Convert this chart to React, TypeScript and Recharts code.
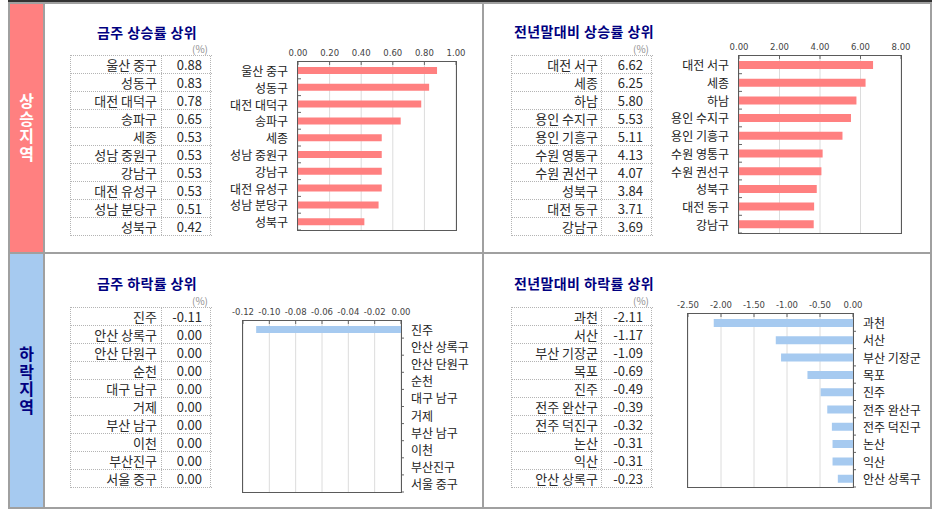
import React from 'react';
import { BarChart, Bar, XAxis, YAxis, CartesianGrid } from 'recharts';

// 금주 상승률 상위
const weekUpNames = ['울산 중구', '성동구', '대전 대덕구', '송파구', '세종', '성남 중원구', '강남구', '대전 유성구', '성남 분당구', '성북구'];
const weekUpValues = [0.88, 0.83, 0.78, 0.65, 0.53, 0.53, 0.53, 0.53, 0.51, 0.42];
const weekUpTicks = [0, 0.2, 0.4, 0.6, 0.8, 1.0];

// 전년말대비 상승률 상위
const yearUpNames = ['대전 서구', '세종', '하남', '용인 수지구', '용인 기흥구', '수원 영통구', '수원 권선구', '성북구', '대전 동구', '강남구'];
const yearUpValues = [6.62, 6.25, 5.8, 5.53, 5.11, 4.13, 4.07, 3.84, 3.71, 3.69];
const yearUpTicks = [0, 2, 4, 6, 8];

// 금주 하락률 상위
const weekDownNames = ['진주', '안산 상록구', '안산 단원구', '순천', '대구 남구', '거제', '부산 남구', '이천', '부산진구', '서울 중구'];
const weekDownValues = [-0.11, 0, 0, 0, 0, 0, 0, 0, 0, 0];
const weekDownTicks = [-0.12, -0.1, -0.08, -0.06, -0.04, -0.02, 0];

// 전년말대비 하락률 상위
const yearDownNames = ['과천', '서산', '부산 기장군', '목포', '진주', '전주 완산구', '전주 덕진구', '논산', '익산', '안산 상록구'];
const yearDownValues = [-2.11, -1.17, -1.09, -0.69, -0.49, -0.39, -0.32, -0.31, -0.31, -0.23];
const yearDownTicks = [-2.5, -2, -1.5, -1, -0.5, 0];

const FONT = '"Noto Sans CJK KR", "Noto Sans", sans-serif';
const NAVY = '#000080';
const RED = '#ff8080';
const BLUE = '#a6caf0';
const FRAME = '#a0a0a0';
const DOT = '1px dotted #b4b4b4';

type Margin = { top: number; right: number; bottom: number; left: number };

function DataTable({ names, values, left, top, labelW, valueW, rowH, labelPad }: {
  names: string[]; values: number[]; left: number; top: number; labelW: number; valueW: number; rowH: number; labelPad: number;
}) {
  return (
    <div style={{ position: 'absolute', left, top, width: labelW + valueW, borderTop: DOT, borderLeft: DOT, fontFamily: FONT, fontSize: 13, color: '#2a2a2a' }}>
      {names.map((n, i) => (
        <div key={n + i} style={{ display: 'flex', height: rowH, boxSizing: 'border-box', borderBottom: DOT }}>
          <div style={{ width: labelW, boxSizing: 'border-box', borderRight: DOT, textAlign: 'right', paddingRight: labelPad, lineHeight: rowH - 1 + 'px', whiteSpace: 'nowrap' }}>{n}</div>
          <div style={{ width: valueW - 1, boxSizing: 'border-box', borderRight: DOT, textAlign: 'right', paddingRight: 8, lineHeight: rowH - 1 + 'px' }}>{values[i].toFixed(2)}</div>
        </div>
      ))}
    </div>
  );
}

function RankChart({ names, values, ticks, color, side, left, top, width, height, margin, axisW, barSize }: {
  names: string[]; values: number[]; ticks: number[]; color: string; side: 'left' | 'right';
  left: number; top: number; width: number; height: number; margin: Margin; axisW: number; barSize: number;
}) {
  const data = names.map((name, i) => ({ name, value: values[i] }));
  const xH = 24;
  const plotTop = margin.top + xH;
  const plotH = height - plotTop - margin.bottom;
  const plotW = width - margin.left - margin.right - axisW;
  const band = plotH / names.length;
  const plotLeft = side === 'left' ? margin.left + axisW : margin.left;
  const edgeX = side === 'left' ? plotLeft : plotLeft + plotW;

  const xTick = (p: any) => (
    <g>
      <text x={p.x} y={p.y} textAnchor="middle" fontSize={8.5} fill="#444" fontFamily="DejaVu Sans">{Number(p.payload.value).toFixed(2)}</text>
      <line x1={p.x} x2={p.x} y1={plotTop} y2={plotTop + 3} stroke="#666" />
    </g>
  );
  const yTick = (p: any) => (
    <g>
      <text x={p.x} y={p.y} textAnchor={side === 'left' ? 'end' : 'start'} dominantBaseline="central" fontSize={12} fill="#222" fontFamily={FONT}>{p.payload.value}</text>
      <line x1={edgeX} x2={edgeX + 3} y1={p.y + band / 2} y2={p.y + band / 2} stroke="#666" />
    </g>
  );

  return (
    <div style={{ position: 'absolute', left, top, width, height }}>
      <BarChart width={width} height={height} data={data} layout="vertical" margin={margin} barCategoryGap={0}>
        <CartesianGrid horizontal={false} stroke="#dcdcdc" />
        <XAxis type="number" orientation="top" domain={[ticks[0], ticks[ticks.length - 1]]} ticks={ticks} interval={0}
          height={xH} tickSize={0} tickMargin={6} axisLine={false} tickLine={false} tick={xTick} allowDataOverflow />
        <YAxis type="category" dataKey="name" orientation={side} width={axisW} tickSize={0} tickMargin={10}
          axisLine={false} tickLine={false} interval={0} tick={yTick} />
        <Bar dataKey="value" fill={color} barSize={barSize} isAnimationActive={false} />
      </BarChart>
      <div style={{ position: 'absolute', left: plotLeft - 0.75, top: plotTop - 0.75, width: plotW + 1.5, height: plotH + 1.5, boxSizing: 'border-box', border: '1.5px solid #5a5a5a', pointerEvents: 'none' }} />
    </div>
  );
}

function Title({ text, left, top }: { text: string; left: number; top: number }) {
  return (
    <div style={{ position: 'absolute', left, top, fontFamily: FONT, fontSize: 14, fontWeight: 700, color: NAVY, lineHeight: '16px', whiteSpace: 'nowrap', letterSpacing: 0.4 }}>{text}</div>
  );
}

function Unit({ right, top }: { right: number; top: number }) {
  return (
    <div style={{ position: 'absolute', left: right - 24, width: 24, top, textAlign: 'right', fontFamily: FONT, fontSize: 10, color: '#909090', lineHeight: '12px' }}>(%)</div>
  );
}

function SideLabel({ text, top, height, bg, fg }: { text: string; top: number; height: number; bg: string; fg: string }) {
  return (
    <div style={{ position: 'absolute', left: 10, top, width: 33, height, background: bg, display: 'flex', alignItems: 'center', justifyContent: 'center' }}>
      <div style={{ writingMode: 'vertical-rl', textOrientation: 'upright', fontFamily: FONT, fontSize: 16, fontWeight: 700, color: fg, letterSpacing: 1.5, lineHeight: '18px' }}>{text}</div>
    </div>
  );
}

export default function App() {
  return (
    <div style={{ position: 'absolute', left: 0, top: 0, width: 936, height: 511, background: '#fff', overflow: 'hidden' }}>
      <div style={{ position: 'absolute', left: 8, top: 0, width: 924, height: 1.5, background: '#333' }} />
      <div style={{ position: 'absolute', left: 8, top: 2, width: 924, height: 507, boxSizing: 'border-box', border: `2px solid ${FRAME}` }} />
      <SideLabel text="상승지역" top={4} height={248} bg={RED} fg="#fff" />
      <SideLabel text="하락지역" top={254} height={253} bg={BLUE} fg={NAVY} />
      <div style={{ position: 'absolute', left: 43, top: 4, width: 2, height: 504, background: FRAME }} />
      <div style={{ position: 'absolute', left: 10, top: 252, width: 921, height: 2, background: FRAME }} />
      <div style={{ position: 'absolute', left: 482, top: 4, width: 2, height: 504, background: FRAME }} />

      <Title text="금주 상승률 상위" left={97} top={24} />
      <Unit right={208} top={43} />
      <DataTable names={weekUpNames} values={weekUpValues} left={70} top={55} labelW={91} valueW={50} rowH={18} labelPad={4} />
      <RankChart names={weekUpNames} values={weekUpValues} ticks={weekUpTicks} color={RED} side="left"
        left={215} top={38} width={255} height={200} margin={{ top: 0, right: 14, bottom: 8, left: 0 }} axisW={83} barSize={7} />

      <Title text="전년말대비 상승률 상위" left={514} top={23} />
      <Unit right={649} top={43} />
      <DataTable names={yearUpNames} values={yearUpValues} left={511} top={55} labelW={90} valueW={51} rowH={18} labelPad={3} />
      <RankChart names={yearUpNames} values={yearUpValues} ticks={yearUpTicks} color={RED} side="left"
        left={650} top={32} width={265} height={210} margin={{ top: 0, right: 14, bottom: 9, left: 0 }} axisW={89} barSize={8} />

      <Title text="금주 하락률 상위" left={97} top={275} />
      <Unit right={208} top={295} />
      <DataTable names={weekDownNames} values={weekDownValues} left={70} top={307} labelW={91} valueW={50} rowH={18} labelPad={4} />
      <RankChart names={weekDownNames} values={weekDownValues} ticks={weekDownTicks} color={BLUE} side="right"
        left={230} top={297} width={250} height={200} margin={{ top: 0, right: 9, bottom: 5, left: 13 }} axisW={70} barSize={7} />

      <Title text="전년말대비 하락률 상위" left={514} top={275} />
      <Unit right={649} top={295} />
      <DataTable names={yearDownNames} values={yearDownValues} left={511} top={307} labelW={90} valueW={51} rowH={18} labelPad={3} />
      <RankChart names={yearDownNames} values={yearDownValues} ticks={yearDownTicks} color={BLUE} side="right"
        left={675} top={290} width={255} height={202} margin={{ top: 0, right: 7, bottom: 5, left: 13 }} axisW={70} barSize={8} />
    </div>
  );
}
